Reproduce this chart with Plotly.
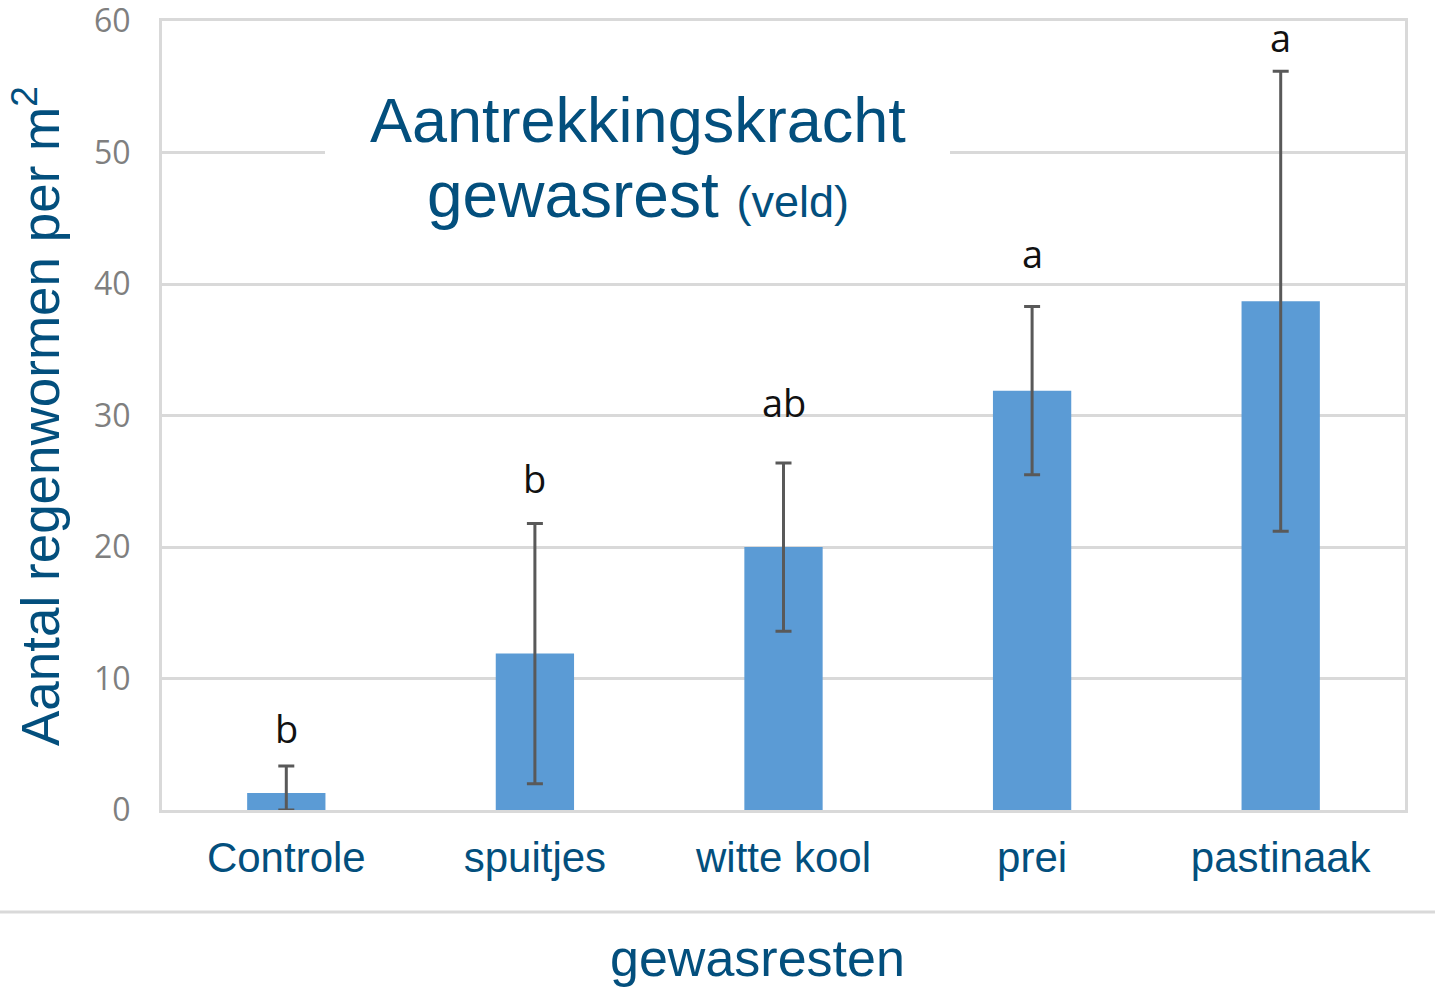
import plotly.graph_objects as go

# ---- data ----
categories = ["Controle", "spuitjes", "witte kool", "prei", "pastinaak"]
means = [1.3, 11.9, 20.0, 31.9, 38.7]
errors = [2.05, 9.9, 6.4, 6.4, 17.5]
letters = ["b", "b", "ab", "a", "a"]
y_ticks = [0, 10, 20, 30, 40, 50, 60]

title_line1 = "Aantrekkingskracht"
title_line2 = "gewasrest"
title_suffix = "(veld)"
y_title = "Aantal regenwormen per m<sup>2</sup>"
x_title = "gewasresten"

# style: pixel gap between error-bar top and its significance letter
letter_gaps_px = [10, 17, 33, 26, 6]

DARK_BLUE = "#034f7d"
GRID = "#d9d9d9"
BAR = "#5b9bd5"
ERR = "#595959"

W, H = 1435, 988
L, R, T, B = 162, 30, 21, 178
PW = W - L - R
PH = H - T - B


def px_x(px):
    return (px - L) / PW


def px_y(py):
    return (H - B - py) / PH


errors_minus = [min(e, m) for e, m in zip(errors, means)]

fig = go.Figure()
fig.add_trace(go.Bar(
    x=categories,
    y=means,
    marker=dict(color=BAR, line=dict(width=0)),
    error_y=dict(type="data", array=errors, arrayminus=errors_minus,
                 color=ERR, thickness=3, width=8, visible=True),
    width=0.315,
    showlegend=False,
    hoverinfo="skip",
))

annotations = []
for c, m, e, lab, g in zip(categories, means, errors, letters, letter_gaps_px):
    annotations.append(dict(
        x=c, y=m + e, xref="x", yref="y", text=lab, showarrow=False,
        yanchor="bottom", yshift=g,
        font=dict(family="Open Sans", size=38, color="#111111"),
    ))

# title lines
annotations.append(dict(
    x=px_x(638), y=px_y(120), xref="paper", yref="paper",
    text=title_line1, showarrow=False, xanchor="center", yanchor="middle",
    font=dict(family="Liberation Sans", size=63, color=DARK_BLUE),
))
annotations.append(dict(
    x=px_x(638), y=px_y(195), xref="paper", yref="paper",
    text=f"{title_line2} <span style='font-size:45px'>{title_suffix}</span>",
    showarrow=False, xanchor="center", yanchor="middle",
    font=dict(family="Liberation Sans", size=64, color=DARK_BLUE),
))
# axis titles
annotations.append(dict(
    x=px_x(757), y=px_y(958), xref="paper", yref="paper",
    text=x_title, showarrow=False, xanchor="center", yanchor="middle",
    font=dict(family="Liberation Sans", size=52, color=DARK_BLUE),
))
annotations.append(dict(
    x=px_x(36), y=px_y(416), xref="paper", yref="paper",
    text=y_title, showarrow=False, xanchor="center", yanchor="middle",
    textangle=-90,
    font=dict(family="Liberation Sans", size=53, color=DARK_BLUE),
))

shapes = [
    # white box behind title interrupting gridline
    dict(type="rect", xref="paper", yref="paper",
         x0=px_x(325), x1=px_x(950), y0=px_y(235), y1=px_y(80),
         fillcolor="white", line=dict(width=0), layer="above"),
    # separator line across the full width
    dict(type="line", xref="paper", yref="paper",
         x0=px_x(0), x1=px_x(W), y0=px_y(912), y1=px_y(912),
         line=dict(color=GRID, width=3)),
]

fig.update_layout(
    width=W, height=H,
    margin=dict(l=L, r=R, t=T, b=B, pad=0, autoexpand=False),
    paper_bgcolor="white", plot_bgcolor="white",
    bargap=0.685,
    annotations=annotations,
    shapes=shapes,
    xaxis=dict(
        showgrid=False, showline=True, mirror=True, linecolor=GRID, linewidth=3,
        ticks="", tickfont=dict(family="Liberation Sans", size=42, color=DARK_BLUE),
        ticklabelstandoff=9, fixedrange=True, automargin=False,
    ),
    yaxis=dict(
        range=[0, 60.02], tickvals=y_ticks, showgrid=True, gridcolor=GRID, gridwidth=3,
        showline=True, mirror=True, linecolor=GRID, linewidth=3, zeroline=False,
        ticks="", tickfont=dict(family="Open Sans", size=32, color="#7f7f7f"),
        ticklabelstandoff=22, ticklabeloverflow="allow", fixedrange=True,
        automargin=False,
    ),
)

fig.write_html("out.html", config={"displayModeBar": False},
               post_script="document.body.style.margin='0';document.body.style.overflow='hidden';")
